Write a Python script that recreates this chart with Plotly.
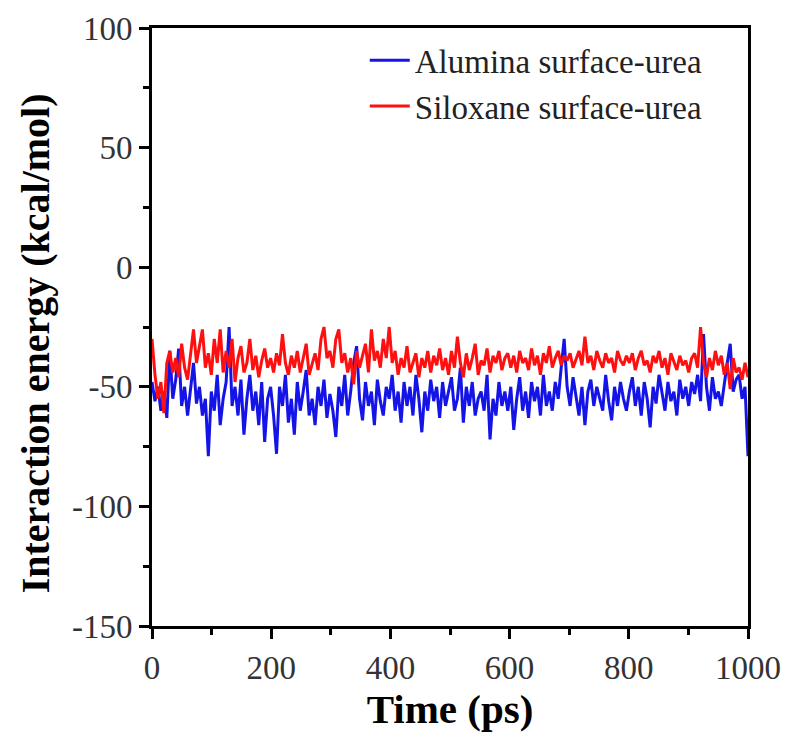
import numpy as np
import plotly.graph_objects as go

# Interaction energy (kcal/mol), sampled every 5 ps from 0 to 1000 ps
alumina = [
    -48, -56, -50, -60, -52, -63, -35, -55, -47, -34, -58, -50, -62, -52, -40, -57, -50, -62, -55, -79, -52,
    -60, -45, -66, -55, -48, -25, -58, -50, -62, -47, -70, -55, -45, -60, -52, -66, -48, -73, -55, -50,
    -62, -78, -50, -58, -45, -65, -55, -70, -48, -60, -52, -43, -62, -55, -66, -50, -58, -47, -63, -53,
    -60, -71, -50, -58, -45, -62, -52, -40, -33, -55, -64, -48, -58, -52, -66, -47, -56, -62, -50, -55,
    -45, -60, -52, -65, -48, -58, -50, -62, -45, -55, -69, -52, -60, -47, -56, -50, -63, -48, -58, -52,
    -46, -60, -55, -42, -65, -50, -58, -48, -62, -55, -52, -60, -45, -72, -55, -62, -48, -58, -52, -60,
    -50, -68, -55, -46, -60, -52, -63, -48, -56, -50, -62, -45, -58, -52, -60, -48, -55, -42, -30, -50,
    -58, -46, -55, -62, -50, -66, -52, -47, -58, -50, -55, -60, -45, -56, -64, -50, -58, -48, -55, -60,
    -52, -46, -58, -50, -62, -48, -55, -67, -50, -57, -45, -53, -60, -48, -56, -52, -62, -47, -55, -50,
    -58, -48, -53, -45, -56, -28, -50, -60, -46, -55, -52, -58, -48, -40, -32, -52, -47, -45, -55, -50, -79,
]
siloxane = [
    -30, -45, -55, -48, -61, -40, -35, -44, -38, -46, -32, -42, -47, -36, -26, -40, -33, -26, -42, -36, -45,
    -30, -40, -26, -44, -35, -42, -30, -48, -38, -33, -44, -40, -30, -43, -37, -46, -39, -34, -42, -38,
    -44, -36, -41, -28, -40, -45, -37, -42, -35, -44, -38, -32, -45, -40, -36, -43, -30, -25, -38, -35,
    -42, -30, -26, -40, -36, -44, -38, -49, -35, -42, -37, -32, -44, -26, -39, -35, -42, -30, -38, -25,
    -40, -35, -45, -38, -42, -33, -44, -40, -36, -46, -38, -42, -35, -44, -37, -41, -34, -43, -38, -45,
    -35, -42, -29, -40, -46, -36, -43, -38, -32, -45, -39, -41, -34, -44, -37, -40, -35, -43, -38, -36,
    -42, -37, -44, -35, -40, -38, -43, -34, -41, -37, -45, -36, -40, -33, -42, -38, -35, -41, -37, -39,
    -36, -42, -38, -35, -41, -29, -40, -37, -43, -35, -39, -42, -36, -40, -38, -44, -35, -39, -41, -37,
    -40, -36, -43, -38, -35, -41, -39, -44, -37, -40, -35, -42, -38, -45, -36, -40, -43, -37, -41, -39,
    -44, -38, -36, -42, -25, -40, -46, -38, -43, -35, -41, -37, -45, -40, -51, -38, -44, -42, -47, -40, -46,
]
time_a = np.linspace(0, 1000, len(alumina))
time_s = np.linspace(0, 1000, len(siloxane))

x_ticks = [0, 200, 400, 600, 800, 1000]
x_ticktext = ["0", "200", "400", "600", "800", "1000"]
y_ticks = [100, 50, 0, -50, -100, -150]
y_ticktext = ["100", "50", "0", "-50", "-100", "-150"]

FONT = "Liberation Serif"

fig = go.Figure()
fig.add_trace(go.Scatter(x=time_a, y=alumina, mode="lines", name="Alumina surface-urea",
                         line=dict(color="#1414e6", width=3)))
fig.add_trace(go.Scatter(x=time_s, y=siloxane, mode="lines", name="Siloxane surface-urea",
                         line=dict(color="#ff1010", width=3)))

axis_common = dict(showline=True, linewidth=3, linecolor="black", mirror=True,
                   ticks="outside", ticklen=10, tickwidth=3, tickcolor="black",
                   showgrid=False, zeroline=False,
                   tickfont=dict(family=FONT, size=33, color="#333333"))

fig.update_xaxes(range=[0, 1000], tickvals=x_ticks, ticktext=x_ticktext,
                 minor=dict(ticks="outside", dtick=100, tick0=0, ticklen=6, tickwidth=3, tickcolor="black"),
                 title=dict(text="<b>Time (ps)</b>", font=dict(family=FONT, size=41, color="black"), standoff=8),
                 **axis_common)
fig.update_yaxes(range=[-150, 100], tickvals=y_ticks, ticktext=y_ticktext,
                 minor=dict(ticks="outside", dtick=25, tick0=0, ticklen=6, tickwidth=3, tickcolor="black"),
                 **axis_common)

fig.add_annotation(text="<b>Interaction energy (kcal/mol)</b>", textangle=-90,
                   xref="paper", yref="paper", x=-0.196, y=0.473,
                   xanchor="center", yanchor="middle", showarrow=False,
                   font=dict(family=FONT, size=40, color="black"))

fig.update_layout(
    width=787, height=739,
    margin=dict(l=152, r=39, t=28, b=113, autoexpand=False),
    paper_bgcolor="white", plot_bgcolor="white",
    showlegend=True,
    legend=dict(x=0.357, y=0.993, xanchor="left", yanchor="top",
                bgcolor="rgba(0,0,0,0)", borderwidth=0,
                font=dict(family=FONT, size=33, color="#222222"),
                tracegroupgap=0, itemwidth=40),
)

fig.write_html("out.html")
